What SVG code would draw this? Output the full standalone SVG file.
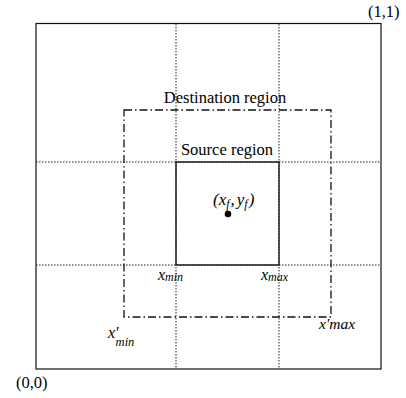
<svg xmlns="http://www.w3.org/2000/svg" width="406" height="398" viewBox="0 0 406 398">
<style>
.lbl{font-family:"Liberation Serif","Times New Roman",serif;font-size:16.5px;fill:#000}
.it{font-family:"Liberation Serif","Times New Roman",serif;font-style:italic;fill:#000}
.dot{fill:none;stroke:#222;stroke-width:1;stroke-dasharray:1.5 1.5}
.dd{fill:none;stroke:#111;stroke-width:1.3;stroke-dasharray:8 3 1.5 3}
</style>
<rect width="406" height="398" fill="#fff"/>
<g id="outer">
<rect x="36" y="23.5" width="345" height="345.5" fill="none" stroke="#111" stroke-width="1.2"/>
</g>
<g id="grid">
<line class="dot" x1="176" y1="24" x2="176" y2="369"/>
<line class="dot" x1="279" y1="24" x2="279" y2="369"/>
<line class="dot" x1="36" y1="162" x2="381" y2="162"/>
<line class="dot" x1="36" y1="265" x2="381" y2="265"/>
</g>
<g id="destination">
<rect class="dd" x="124" y="110" width="207" height="207"/>
<text class="lbl" x="225" y="103" text-anchor="middle">Destination region</text>
</g>
<g id="source">
<rect x="176" y="162" width="103" height="103" fill="none" stroke="#222" stroke-width="1.5"/>
<text class="lbl" x="227" y="155" text-anchor="middle">Source region</text>
</g>
<g id="point">
<circle cx="228" cy="214" r="3.3" fill="#000"/>
<text class="it" x="213" y="205" font-size="17">(x<tspan font-size="12" dy="3">f</tspan><tspan dy="-3" dx="1">,</tspan><tspan dx="2">y</tspan><tspan font-size="12" dy="3">f</tspan><tspan dy="-3" dx="1">)</tspan></text>
</g>
<g id="labels">
<text class="it" x="158" y="279.5" font-size="16">x<tspan font-size="12" dy="1.5">min</tspan></text>
<text class="it" x="261" y="279.5" font-size="16">x<tspan font-size="12" dy="1.5">max</tspan></text>
<text class="it" x="108" y="338" font-size="16">x′<tspan font-size="12.5" dy="8" dx="-3">min</tspan></text>
<text class="it" x="319" y="329" font-size="15.5">x′max</text>
<text class="lbl" x="368" y="17" font-size="17">(1,1)</text>
<text class="lbl" x="16" y="388" font-size="17">(0,0)</text>
</g>
</svg>
